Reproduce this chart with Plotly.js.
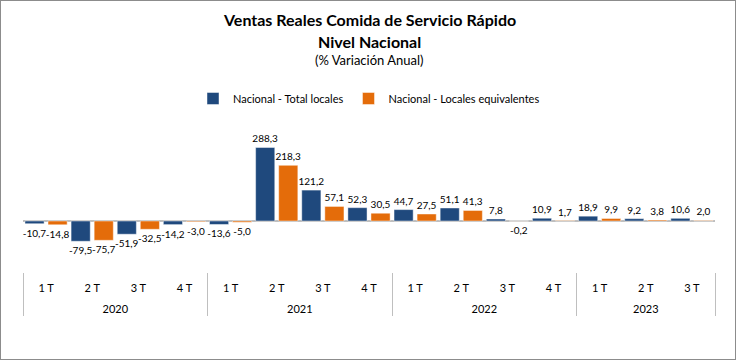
<!DOCTYPE html>
<html>
<head>
<meta charset="utf-8">
<script src="https://cdn.plot.ly/plotly-3.0.1.min.js"></script>
<style>
html,body{margin:0;padding:0;background:#fff;}
#chart{position:absolute;left:0;top:0;width:736px;height:360px;}
#frame{position:absolute;left:0;top:0;width:736px;height:360px;box-sizing:border-box;border:1px solid #8c8c8c;pointer-events:none;}
</style>
</head>
<body>
<div id="chart"></div>
<div id="frame"></div>
<script>
const years = ["2020","2020","2020","2020","2021","2021","2021","2021","2022","2022","2022","2022","2023","2023","2023"];
const quarters = ["1 T","2 T","3 T","4 T","1 T","2 T","3 T","4 T","1 T","2 T","3 T","4 T","1 T","2 T","3 T"];
const totalLocales = [-10.7,-79.5,-51.9,-14.2,-13.6,288.3,121.2,52.3,44.7,51.1,7.8,10.9,18.9,9.2,10.6];
const localesEquivalentes = [-14.8,-75.7,-32.5,-3.0,-5.0,218.3,57.1,30.5,27.5,41.3,-0.2,1.7,9.9,3.8,2.0];
const seriesNames = ["Nacional - Total locales","Nacional - Locales equivalentes"];
const colors = ["#1F497D","#E46C0A"];

const FONT = "Lato, 'Liberation Sans', sans-serif";
// years label pushed one line lower to leave space below the quarter row
const x = [years.map(y => "<br>" + y), quarters];

function mk(vals, i){
  return {
    type:"bar", x:x, y:vals, name:seriesNames[i],
    marker:{color:colors[i], line:{color:"rgba(255,255,255,0.45)", width:1}},
    texttemplate:"%{y:.1f}", textposition:"outside", constraintext:"none",
    cliponaxis:false, textfont:{family:FONT, size:10, color:"#000"},
    hoverinfo:"skip"
  };
}

const data = [mk(totalLocales,0), mk(localesEquivalentes,1)];

const layout = {
  width:736, height:360,
  margin:{l:23, r:21, t:119, b:88},
  paper_bgcolor:"#fff", plot_bgcolor:"#fff",
  separators:",.",
  font:{family:FONT, size:10, color:"#000"},
  bargap:0, bargroupgap:0.17, barmode:"group",
  showlegend:true,
  legend:{orientation:"h", x:0.5, xanchor:"center", xref:"paper", y:1.0, yref:"container", yanchor:"top",
          font:{family:FONT, size:11, color:"#000"}, itemwidth:30, traceorder:"normal"},
  xaxis:{type:"multicategory", showline:false, showgrid:false, zeroline:false,
         showdividers:true, dividercolor:"#bfbfbf", dividerwidth:1,
         tickfont:{family:FONT, size:11, color:"#000"}, ticks:"", ticklabelstandoff:8},
  yaxis:{range:[-200,400], showgrid:false, showticklabels:false, ticks:"", showline:false,
         zeroline:true, zerolinecolor:"#bfbfbf", zerolinewidth:2},
  annotations:[
    {text:"<b>Ventas Reales Comida de Servicio Rápido</b>", xref:"paper", yref:"paper", x:0.5, y:1, xanchor:"center", yanchor:"middle",
     showarrow:false, font:{family:FONT, size:16, color:"#000"}},
    {text:"<b>Nivel Nacional</b>", xref:"paper", yref:"paper", x:0.5, y:1, xanchor:"center", yanchor:"middle",
     showarrow:false, font:{family:FONT, size:16, color:"#000"}},
    {text:"(% Variación Anual)", xref:"paper", yref:"paper", x:0.5, y:1, xanchor:"center", yanchor:"middle",
     showarrow:false, font:{family:FONT, size:13, color:"#000"}}
  ]
};
const plotTop = 119;
const titleYs = [19, 41, 60];
layout.annotations.forEach((a,i)=>{ a.yshift = plotTop - titleYs[i]; });
layout.legend.y = 1 - 84/360;

Plotly.newPlot("chart", data, layout, {staticPlot:true, displayModeBar:false});
</script>
</body>
</html>
